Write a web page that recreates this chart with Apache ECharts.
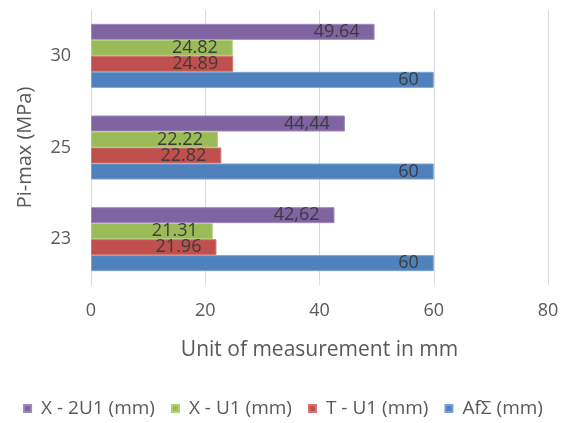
<!DOCTYPE html>
<html>
<head>
<meta charset="utf-8">
<script src="https://cdn.jsdelivr.net/npm/echarts@6/dist/echarts.min.js"></script>
<style>
html,body{margin:0;padding:0;background:#fff;}
#chart{width:566px;height:423px;}
</style>
</head>
<body>
<div id="chart"></div>
<script>
var categories = ['23', '25', '30'];
var seriesNames = ['X - 2U1 (mm)', 'X - U1 (mm)', 'T - U1 (mm)', 'Af\u03A3 (mm)'];
var x2u1 = [42.62, 44.44, 49.64];
var xu1 = [21.31, 22.22, 24.82];
var tu1 = [21.96, 22.82, 24.89];
var afs = [60, 60, 60];
var x2u1Labels = ['42,62', '44,44', '49.64'];
var xu1Labels = ['21.31', '22.22', '24.82'];
var tu1Labels = ['21.96', '22.82', '24.89'];
var afsLabels = ['60', '60', '60'];
var xTicks = [0, 20, 40, 60, 80];

var colors = ['#8064A2', '#9BBB59', '#C0504D', '#4F81BD'];
var borders = ['#9f88bd', '#b3cf7c', '#d27572', '#7aa0d2'];
var FONT = 'Open Sans';

function mk(i, data, labels) {
  return {
    name: seriesNames[i],
    type: 'bar',
    data: data,
    barWidth: 16,
    barGap: '0%',
    itemStyle: { color: colors[i], borderColor: borders[i], borderWidth: 1 },
    label: {
      show: true,
      position: 'insideRight',
      distance: 15,
      color: '#3b3b3b',
      fontFamily: FONT,
      fontSize: 18,
      formatter: function (p) { return labels[p.dataIndex]; }
    }
  };
}

var chart = echarts.init(document.getElementById('chart'));
chart.setOption({
  animation: false,
  color: colors,
  grid: { left: 91, right: 18, top: 10, bottom: 138, containLabel: false },
  legend: {
    top: 394,
    left: 'center',
    data: seriesNames,
    icon: 'rect',
    itemWidth: 7,
    itemHeight: 7,
    itemGap: 16,
    textStyle: { color: '#595959', fontFamily: FONT, fontSize: 19, padding: [0, 0, 0, 5] }
  },
  xAxis: {
    type: 'value',
    min: xTicks[0],
    max: xTicks[xTicks.length - 1],
    interval: 20,
    name: 'Unit of measurement in mm',
    nameLocation: 'middle',
    nameGap: 55,
    nameTextStyle: { color: '#595959', fontFamily: FONT, fontSize: 21 },
    axisLine: { show: false },
    axisTick: { show: false },
    axisLabel: { color: '#595959', fontFamily: FONT, fontSize: 18, margin: 17 },
    splitLine: { show: true, lineStyle: { color: '#d9d9d9', width: 1 } }
  },
  yAxis: {
    type: 'category',
    data: categories,
    name: 'Pi-max (MPa)',
    nameLocation: 'middle',
    nameRotate: 90,
    nameGap: 56,
    nameTextStyle: { color: '#595959', fontFamily: FONT, fontSize: 20 },
    axisLine: { show: true, lineStyle: { color: '#d9d9d9' } },
    axisTick: { show: false },
    axisLabel: { color: '#595959', fontFamily: FONT, fontSize: 18, margin: 20 }
  },
  series: [
    mk(0, x2u1, x2u1Labels),
    mk(1, xu1, xu1Labels),
    mk(2, tu1, tu1Labels),
    mk(3, afs, afsLabels)
  ]
});
</script>
</body>
</html>
